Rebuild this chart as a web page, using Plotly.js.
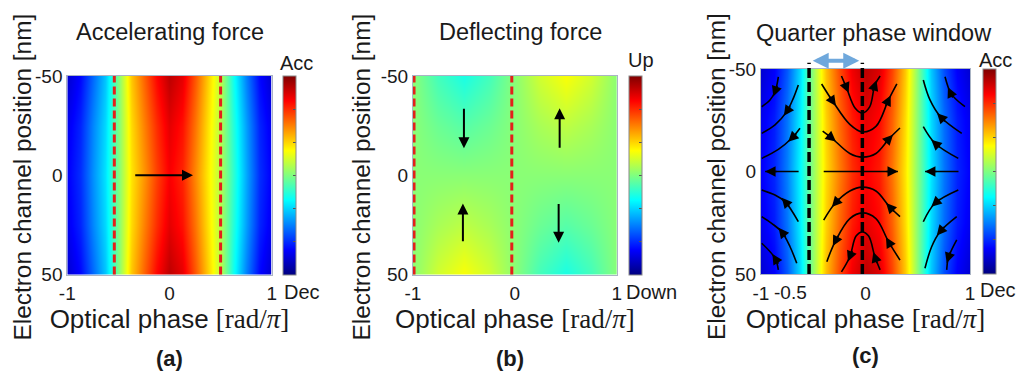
<!DOCTYPE html>
<html><head><meta charset="utf-8">
<script src="https://cdn.plot.ly/plotly-3.0.1.min.js"></script>
<style>html,body{margin:0;padding:0;background:#fff}</style>
</head><body><div id="chart" style="width:1017px;height:381px"></div>
<script>
// ---------------- data ----------------
const phaseX = [-1,-0.875,-0.75,-0.625,-0.5,-0.375,-0.25,-0.125,0,0.125,0.25,0.375,0.5,0.625,0.75,0.875,1];
const channelY = [-50,-25,0,25,50];

// (a) accelerating force, normalised colour level (0 = Dec, 1 = Acc)
const accRowTop  = [0.08,0.13,0.23,0.32,0.50,0.68,0.78,0.87,0.94,0.90,0.79,0.67,0.56,0.39,0.25,0.13,0.08];
const accRowMid  = [0.11,0.16,0.26,0.34,0.50,0.66,0.75,0.83,0.90,0.86,0.76,0.65,0.55,0.41,0.28,0.16,0.11];
const accRowZero = [0.12,0.17,0.27,0.35,0.50,0.65,0.73,0.81,0.88,0.84,0.74,0.64,0.55,0.42,0.29,0.17,0.12];

// (b) deflecting force (0 = Down, 1 = Up)
const phaseXb = [-1,-0.75,-0.5,-0.25,0,0.25,0.5,0.75,1];
const defRowTop  = [0.51,0.44,0.40,0.44,0.51,0.58,0.62,0.58,0.51];
const defRowMid  = [0.51,0.48,0.46,0.48,0.51,0.54,0.56,0.54,0.51];
const defRowZero = [0.51,0.51,0.51,0.51,0.51,0.51,0.51,0.51,0.51];
const defRowLow  = [0.51,0.54,0.56,0.54,0.51,0.48,0.46,0.48,0.51];
const defRowBot  = [0.51,0.58,0.62,0.58,0.51,0.44,0.40,0.44,0.51];

// (c) quarter phase window
const qRowTop  = [0.08,0.12,0.21,0.34,0.52,0.69,0.80,0.89,0.94,0.91,0.81,0.68,0.50,0.32,0.20,0.12,0.08];
const qRowMid  = [0.11,0.15,0.24,0.36,0.52,0.67,0.77,0.85,0.90,0.87,0.78,0.66,0.50,0.34,0.23,0.15,0.11];
const qRowZero = [0.12,0.16,0.25,0.37,0.52,0.66,0.75,0.83,0.88,0.85,0.76,0.65,0.50,0.35,0.24,0.16,0.12];

// dashed phase markers
const aDashX = [-0.54, 0.50];
const bDashX = [-0.99, -0.03];
const cDashX = [-0.54, -0.03];

// arrows in (a) and (b): tail -> tip
const aArrowTailX = [-0.34], aArrowTipX = [0.23], aArrowY = [0];
const bArrowX    = [-0.50, -0.51, 0.44, 0.43];
const bArrowTailY = [-33.7, 33.5, -13.6, 14.2];
const bArrowTipY  = [-13.6, 14.2, -33.7, 34.0];

// quarter-window double arrow
const cWindowX = [-0.51, -0.06];

// streamlines in (c), points ordered along flow direction
const streamX = [
  [-0.23,-0.18,-0.10,-0.03,0.04,0.09,0.14],
  [-0.42,-0.31,-0.15,-0.03,0.10,0.22,0.30],
  [-0.41,-0.32,-0.15,-0.03,0.10,0.23,0.33],
  [-0.40,0.31],
  [0.33,0.23,0.10,-0.03,-0.15,-0.29,-0.40],
  [0.33,0.22,0.10,-0.03,-0.15,-0.29,-0.37],
  [0.14,0.09,0.03,-0.03,-0.09,-0.15,-0.23],
  [-0.834,-0.866,-0.914,-0.993],
  [-0.643,-0.691,-0.754,-0.866,-0.993],
  [-0.627,-0.706,-0.834,-0.993],
  [-0.64,-0.96],
  [-0.643,-0.770,-0.866,-0.993],
  [-0.658,-0.722,-0.802,-0.898,-0.993],
  [-0.834,-0.866,-0.993],
  [0.952,0.856,0.809,0.761],
  [0.921,0.718,0.617,0.553],
  [0.888,0.665,0.553],
  [0.89,0.57],
  [0.888,0.665,0.553],
  [0.873,0.713,0.633,0.569],
  [0.873,0.792,0.777]
];
const streamY = [
  [-46.6,-40.6,-31.0,-28.5,-31.5,-42.2,-46.6],
  [-42.7,-34.0,-23.0,-19.3,-22.0,-34.9,-42.7],
  [-19.7,-16.2,-8.8,-7.0,-8.8,-16.2,-21.2],
  [0,0],
  [22.0,17.2,9.5,7.6,9.5,15.5,23.7],
  [43.2,34.2,23.0,20.2,23.0,34.2,44.0],
  [48.0,41.6,31.5,29.5,31.5,41.6,49.0],
  [-46.2,-38.9,-34.9,-31.6],
  [-42.2,-35.7,-29.2,-22.7,-18.6],
  [-21.1,-16.2,-10.8,-6.4],
  [0,0],
  [24.5,14.7,11.5,9.0],
  [44.8,36.7,29.4,25.3,22.0],
  [48.0,42.3,35.0],
  [-31.6,-35.7,-38.9,-46.2],
  [-18.6,-26.7,-34.9,-44.6],
  [-6.4,-13.8,-21.9],
  [0,0],
  [9.0,15.5,24.5],
  [22.0,29.4,36.7,47.2],
  [33.4,42.3,48.0]
];
// index of the point carrying an arrowhead on each streamline
const streamArrowIdx = [
  [1,5],[1,5],[1,5],[1],[1,5],[1,5],[1,5],
  [1],[2],[1],[1],[1],[2],[1],
  [2],[1],[1],[1],[1],[1],[1]
];

// ---------------- styling ----------------
const jet = [[0,'#00007f'],[0.125,'#0000ff'],[0.375,'#00ffff'],[0.625,'#ffff00'],[0.875,'#ff0000'],[1,'#7f0000']];
const W = 1017, H = 381;
const FONT = 'Liberation Sans, Arial, sans-serif';
const TXT = '#1a1a1a';

const dom = {
  a: {x:[67.3/W, 271.7/W], y:[1-274.5/H, 1-76/H]},
  b: {x:[413/W, 616.7/W],  y:[1-274.5/H, 1-76/H]},
  c: {x:[761/W, 970/W],    y:[1-274/H, 1-69/H]}
};

function cbar(xpx, d) {
  return {x: xpx/W, xanchor:'left', xpad:0, ypad:0, thickness:13, thicknessmode:'pixels',
          y: d.y[1], yanchor:'top', len: d.y[1]-d.y[0], lenmode:'fraction',
          outlinewidth:1, outlinecolor:'#8a8a8a', showticklabels:false,
          ticks:'inside', ticklen:3, tickcolor:'#555', tick0:0, dtick:1/6};
}

const traces = [
  {type:'heatmap', x:phaseX, y:channelY, z:[accRowTop,accRowMid,accRowZero,accRowMid,accRowTop],
   zmin:0, zmax:1, colorscale:jet, zsmooth:'best', xaxis:'x', yaxis:'y', colorbar:cbar(283, dom.a), hoverinfo:'skip'},
  {type:'heatmap', x:phaseXb, y:channelY, z:[defRowTop,defRowMid,defRowZero,defRowLow,defRowBot],
   zmin:0, zmax:1, colorscale:jet, zsmooth:'best', xaxis:'x2', yaxis:'y2', colorbar:cbar(629, dom.b), hoverinfo:'skip'},
  {type:'heatmap', x:phaseX, y:channelY, z:[qRowTop,qRowMid,qRowZero,qRowMid,qRowTop],
   zmin:0, zmax:1, colorscale:jet, zsmooth:'best', xaxis:'x3', yaxis:'y3', colorbar:cbar(983, dom.c), hoverinfo:'skip'}
];
streamX.forEach((xs,i) => {
  traces.push({type:'scatter', mode:'lines', x:xs, y:streamY[i], xaxis:'x3', yaxis:'y3',
    line:{color:'#000', width:1.6, shape:'spline', smoothing:1}, hoverinfo:'skip', showlegend:false});
});

const xTitle = 'Optical phase <span style="font-family:Liberation Serif, serif;font-size:27px">[rad/<i>π</i>]</span>';
const yTitle = 'Electron channel position [nm]';
function xax(d){return {domain:d.x, range:[-1,1], tickvals:[-1,0,1], ticktext:['-1','0','1'], ticks:'', ticklen:0,
  showgrid:false, zeroline:false, showline:true, mirror:true, linecolor:'#aab4c4', linewidth:1,
  tickfont:{size:19, color:TXT, family:FONT}, ticklabelstandoff:2,
  title:{text:xTitle, font:{size:26, color:TXT, family:FONT}, standoff:2}};}
function yax(d, xa){return {domain:d.y, range:[50,-50], tickvals:[-50,0,50], ticktext:['-50','0','50'], ticks:'', ticklen:0,
  showgrid:false, zeroline:false, showline:true, mirror:true, linecolor:'#aab4c4', linewidth:1, anchor:xa,
  tickfont:{size:19, color:TXT, family:FONT}};}

const shapes = [];
aDashX.forEach(v => shapes.push({type:'line', xref:'x', yref:'y domain', x0:v, x1:v, y0:0, y1:1, line:{color:'#e3201b', width:3, dash:'8px,4px'}}));
bDashX.forEach(v => shapes.push({type:'line', xref:'x2', yref:'y2 domain', x0:v, x1:v, y0:0, y1:1, line:{color:'#e3201b', width:3, dash:'8px,4px'}}));
cDashX.forEach(v => shapes.push({type:'line', xref:'x3', yref:'y3 domain', x0:v, x1:v, y0:0, y1:1.03, line:{color:'#000', width:3.5, dash:'10px,4px'}}));

const ann = [];
function txt(t, px, py, size, angle){ann.push({text:t, x:px/W, y:1-py/H, xref:'paper', yref:'paper', showarrow:false,
  xanchor:'center', yanchor:'middle', textangle:angle||0, font:{size:size, color:TXT, family:FONT}});}
txt('Accelerating force', 170, 32, 23.5);
txt('Deflecting force', 520, 32, 23.5);
txt('Quarter phase window', 874, 33, 23.5);
txt(yTitle, 22, 177.5, 24.4, -90);
txt(yTitle, 361, 177.5, 24.4, -90);
txt(yTitle, 716, 177, 24.4, -90);
txt('Acc', 296, 63, 20);
txt('Dec', 302, 292, 20);
txt('Up', 641, 60, 20);
txt('Down', 651, 292, 20);
txt('Acc', 995, 60, 20);
txt('Dec', 998, 290, 20);
txt('-0.5', 790, 292, 19);
txt('<b>(a)</b>', 169, 358, 22);
txt('<b>(b)</b>', 510, 358, 22);
txt('<b>(c)</b>', 865, 355, 22);

function arrowAnn(xr, yr, x, y, ax, ay, w, size){
  return {xref:xr, yref:yr, axref:xr, ayref:yr, x:x, y:y, ax:ax, ay:ay, text:'', font:{size:1}, borderpad:0, standoff:0,
    showarrow:true, arrowhead:2, arrowsize:size, arrowwidth:w, arrowcolor:'#000'};
}
// arrows (a)
aArrowTipX.forEach((v,i) => ann.push(arrowAnn('x','y', v, aArrowY[i], aArrowTailX[i], aArrowY[i], 2, 1.1)));
// arrows (b)
bArrowX.forEach((v,i) => ann.push(arrowAnn('x2','y2', v, bArrowTipY[i], v, bArrowTailY[i], 2, 1.1)));
// window double arrow (c)
ann.push({xref:'x3', yref:'y3 domain', axref:'x3', ayref:'y3 domain', x:cWindowX[1], y:1.04, ax:cWindowX[0], ay:1.04,
  text:'', font:{size:1}, borderpad:0, showarrow:true, arrowhead:2, startarrowhead:2, arrowside:'end+start',
  arrowsize:0.8, startarrowsize:0.8, arrowwidth:4, arrowcolor:'#6fa8dc'});
// streamline arrowheads (c)
const pxX = 209/2, pxY = 205/100;
streamArrowIdx.forEach((idxs, s) => {
  const xs = streamX[s], ys = streamY[s];
  idxs.forEach(k => {
    const p = Math.max(0,k-1), n = Math.min(xs.length-1, k+1);
    let dx = (xs[n]-xs[p])*pxX, dy = (ys[n]-ys[p])*pxY;
    const L = Math.hypot(dx,dy); dx/=L; dy/=L;
    const ahead = (k === xs.length-1) ? 0 : 5;
    ann.push(arrowAnn('x3','y3', xs[k] + ahead*dx/pxX, ys[k] + ahead*dy/pxY,
      xs[k] + (ahead-12)*dx/pxX, ys[k] + (ahead-12)*dy/pxY, 1.6, 1.3));
  });
});

const layout = {
  width:W, height:H, margin:{l:0,r:0,t:0,b:0}, paper_bgcolor:'#fff', plot_bgcolor:'#fff',
  font:{family:FONT, color:TXT}, showlegend:false,
  xaxis:xax(dom.a), yaxis:yax(dom.a,'x'),
  xaxis2:xax(dom.b), yaxis2:yax(dom.b,'x2'),
  xaxis3:xax(dom.c), yaxis3:yax(dom.c,'x3'),
  shapes:shapes, annotations:ann
};
layout.xaxis.anchor='y'; layout.xaxis2.anchor='y2'; layout.xaxis3.anchor='y3';
Plotly.newPlot('chart', traces, layout, {staticPlot:true, displayModeBar:false});
</script></body></html>
